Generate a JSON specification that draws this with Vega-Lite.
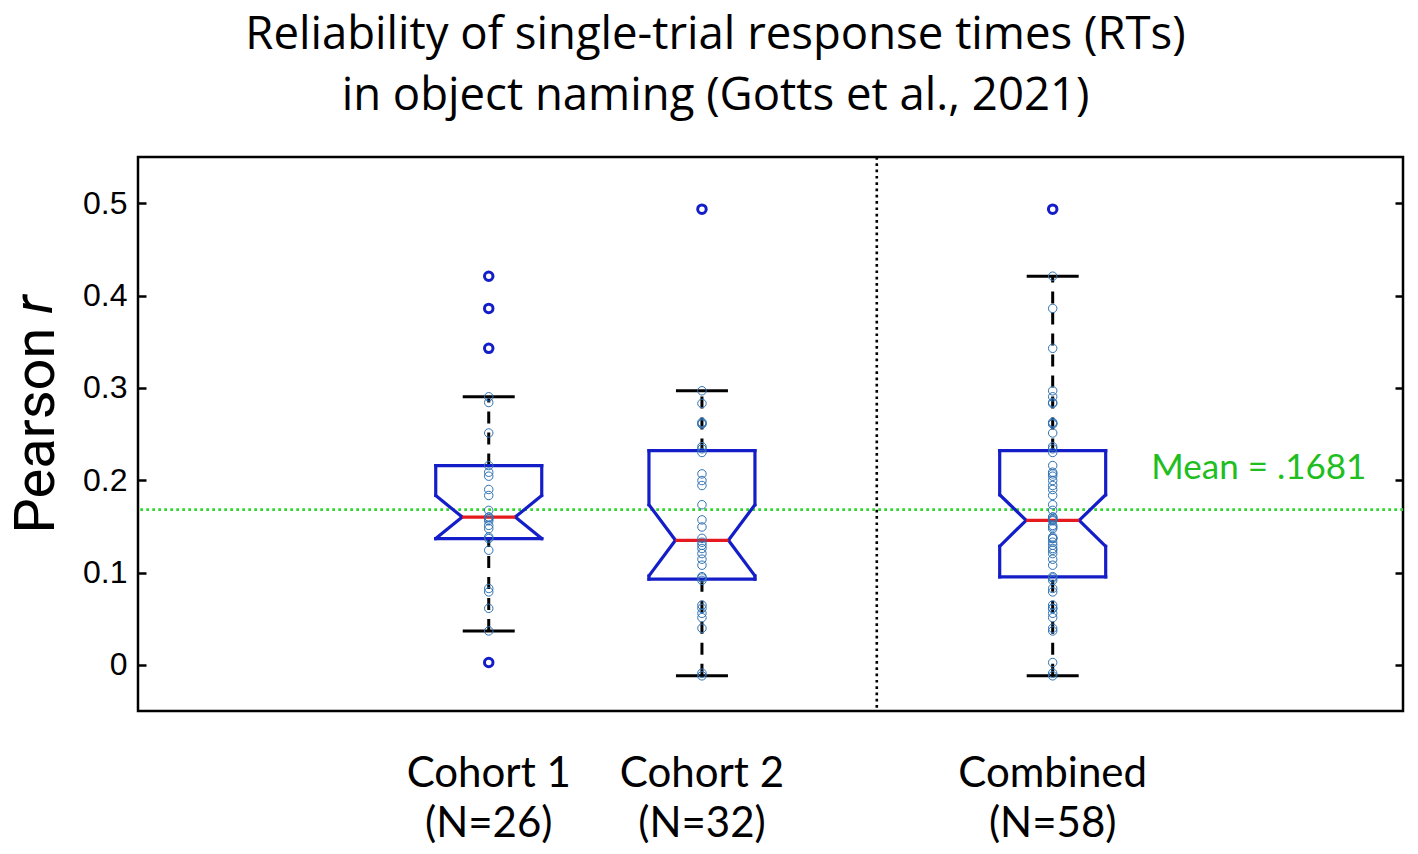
{
  "$schema": "https://vega.github.io/schema/vega-lite/v6.json",
  "width": 1265,
  "height": 554,
  "autosize": "none",
  "padding": {"left": 138, "top": 157, "right": 15, "bottom": 143},
  "background": "white",
  "config": {
    "view": {"stroke": "black", "strokeWidth": 2.5},
    "font": "Lato"
  },
  "title": {
    "text": ["Reliability of single-trial response times (RTs)", "in object naming (Gotts et al., 2021)"],
    "font": "Open Sans",
    "fontSize": 45.5,
    "fontWeight": "normal",
    "color": "black",
    "lineHeight": 61,
    "anchor": "middle",
    "frame": "group",
    "dx": -55,
    "baseline": "top",
    "offset": 36
  },
  "datasets": {
    "box": [
      {"group": "Cohort 1", "nlabel": "(N=26)", "pos": 1, "q1": 0.1367, "med": 0.16, "q3": 0.2158, "nlo": 0.1367, "nhi": 0.1834, "wlo": 0.0367, "whi": 0.2903},
      {"group": "Cohort 2", "nlabel": "(N=32)", "pos": 2, "q1": 0.0928, "med": 0.1349, "q3": 0.232, "nlo": 0.0963, "nhi": 0.1734, "wlo": -0.0119, "whi": 0.2968},
      {"group": "Combined", "nlabel": "(N=58)", "pos": 3.645, "q1": 0.0953, "med": 0.1565, "q3": 0.232, "nlo": 0.1284, "nhi": 0.1842, "wlo": -0.0119, "whi": 0.4209}
    ],
    "pts": [
      {"group": "Cohort 1", "r": 0.0025}, {"group": "Cohort 1", "r": 0.0367}, {"group": "Cohort 1", "r": 0.0612}, {"group": "Cohort 1", "r": 0.0790},
      {"group": "Cohort 1", "r": 0.0827}, {"group": "Cohort 1", "r": 0.1241}, {"group": "Cohort 1", "r": 0.1367}, {"group": "Cohort 1", "r": 0.1384},
      {"group": "Cohort 1", "r": 0.1475}, {"group": "Cohort 1", "r": 0.1510}, {"group": "Cohort 1", "r": 0.1560}, {"group": "Cohort 1", "r": 0.1580},
      {"group": "Cohort 1", "r": 0.1600}, {"group": "Cohort 1", "r": 0.1600}, {"group": "Cohort 1", "r": 0.1673}, {"group": "Cohort 1", "r": 0.1834},
      {"group": "Cohort 1", "r": 0.1899}, {"group": "Cohort 1", "r": 0.2043}, {"group": "Cohort 1", "r": 0.2086}, {"group": "Cohort 1", "r": 0.2158},
      {"group": "Cohort 1", "r": 0.2511}, {"group": "Cohort 1", "r": 0.2841}, {"group": "Cohort 1", "r": 0.2903}, {"group": "Cohort 1", "r": 0.3428},
      {"group": "Cohort 1", "r": 0.3860}, {"group": "Cohort 1", "r": 0.4209},
      {"group": "Cohort 2", "r": -0.0119}, {"group": "Cohort 2", "r": -0.0090}, {"group": "Cohort 2", "r": 0.0396}, {"group": "Cohort 2", "r": 0.0511},
      {"group": "Cohort 2", "r": 0.0558}, {"group": "Cohort 2", "r": 0.0612}, {"group": "Cohort 2", "r": 0.0647}, {"group": "Cohort 2", "r": 0.0915},
      {"group": "Cohort 2", "r": 0.0941}, {"group": "Cohort 2", "r": 0.0955}, {"group": "Cohort 2", "r": 0.1079}, {"group": "Cohort 2", "r": 0.1144},
      {"group": "Cohort 2", "r": 0.1205}, {"group": "Cohort 2", "r": 0.1260}, {"group": "Cohort 2", "r": 0.1295}, {"group": "Cohort 2", "r": 0.1328},
      {"group": "Cohort 2", "r": 0.1370}, {"group": "Cohort 2", "r": 0.1493}, {"group": "Cohort 2", "r": 0.1570}, {"group": "Cohort 2", "r": 0.1734},
      {"group": "Cohort 2", "r": 0.1942}, {"group": "Cohort 2", "r": 0.1996}, {"group": "Cohort 2", "r": 0.2068}, {"group": "Cohort 2", "r": 0.2300},
      {"group": "Cohort 2", "r": 0.2340}, {"group": "Cohort 2", "r": 0.2363}, {"group": "Cohort 2", "r": 0.2608}, {"group": "Cohort 2", "r": 0.2615},
      {"group": "Cohort 2", "r": 0.2626}, {"group": "Cohort 2", "r": 0.2831}, {"group": "Cohort 2", "r": 0.2968}, {"group": "Cohort 2", "r": 0.4935},
      {"group": "Combined", "r": 0.0025}, {"group": "Combined", "r": 0.0367}, {"group": "Combined", "r": 0.0612}, {"group": "Combined", "r": 0.0790},
      {"group": "Combined", "r": 0.0827}, {"group": "Combined", "r": 0.1241}, {"group": "Combined", "r": 0.1367}, {"group": "Combined", "r": 0.1384},
      {"group": "Combined", "r": 0.1475}, {"group": "Combined", "r": 0.1510}, {"group": "Combined", "r": 0.1560}, {"group": "Combined", "r": 0.1580},
      {"group": "Combined", "r": 0.1600}, {"group": "Combined", "r": 0.1600}, {"group": "Combined", "r": 0.1673}, {"group": "Combined", "r": 0.1834},
      {"group": "Combined", "r": 0.1899}, {"group": "Combined", "r": 0.2043}, {"group": "Combined", "r": 0.2086}, {"group": "Combined", "r": 0.2158},
      {"group": "Combined", "r": 0.2511}, {"group": "Combined", "r": 0.2841}, {"group": "Combined", "r": 0.2903}, {"group": "Combined", "r": 0.3428},
      {"group": "Combined", "r": 0.3860}, {"group": "Combined", "r": 0.4209},
      {"group": "Combined", "r": -0.0119}, {"group": "Combined", "r": -0.0090}, {"group": "Combined", "r": 0.0396}, {"group": "Combined", "r": 0.0511},
      {"group": "Combined", "r": 0.0558}, {"group": "Combined", "r": 0.0612}, {"group": "Combined", "r": 0.0647}, {"group": "Combined", "r": 0.0915},
      {"group": "Combined", "r": 0.0941}, {"group": "Combined", "r": 0.0955}, {"group": "Combined", "r": 0.1079}, {"group": "Combined", "r": 0.1144},
      {"group": "Combined", "r": 0.1205}, {"group": "Combined", "r": 0.1260}, {"group": "Combined", "r": 0.1295}, {"group": "Combined", "r": 0.1328},
      {"group": "Combined", "r": 0.1370}, {"group": "Combined", "r": 0.1493}, {"group": "Combined", "r": 0.1570}, {"group": "Combined", "r": 0.1734},
      {"group": "Combined", "r": 0.1942}, {"group": "Combined", "r": 0.1996}, {"group": "Combined", "r": 0.2068}, {"group": "Combined", "r": 0.2300},
      {"group": "Combined", "r": 0.2340}, {"group": "Combined", "r": 0.2363}, {"group": "Combined", "r": 0.2608}, {"group": "Combined", "r": 0.2615},
      {"group": "Combined", "r": 0.2626}, {"group": "Combined", "r": 0.2831}, {"group": "Combined", "r": 0.2968}, {"group": "Combined", "r": 0.4935}
    ],
    "annot": [{"label": "Mean = .1681", "mean": 0.1681}]
  },
  "layer": [
    {
      "data": {"name": "annot"},
      "mark": {"type": "rule", "color": "#2ED62E", "strokeWidth": 2.7, "strokeDash": [2.7, 3.3]},
      "encoding": {
        "y": {"field": "mean", "type": "quantitative",
          "scale": {"domain": [-0.05, 0.55], "nice": false, "zero": false},
          "axis": {"orient": "left", "values": [0, 0.1, 0.2, 0.3, 0.4, 0.5], "format": ".1~f",
            "labelFont": "Liberation Sans", "labelFontSize": 32, "labelColor": "black", "labelPadding": 11,
            "ticks": false, "domain": false, "grid": false,
            "title": "Pearson", "titleFont": "Roboto", "titleFontSize": 56, "titleFontWeight": "normal", "titleColor": "black",
            "titleAngle": 270, "titleX": -85, "titleY": 273, "titleAlign": "center", "titleBaseline": "alphabetic"}}
      }
    },
    {
      "data": {"values": [{"sep": 2.82}]},
      "mark": {"type": "rule", "color": "black", "strokeWidth": 2.6, "strokeDash": [2.7, 3.6]},
      "encoding": {
        "x": {"field": "sep", "type": "quantitative",
          "scale": {"domain": [-0.645, 5.288], "nice": false, "zero": false},
          "axis": null}
      }
    },
    {
      "data": {"name": "box"},
      "mark": {"type": "rule", "color": "black", "strokeWidth": 3, "strokeDash": [12, 9]},
      "encoding": {
        "x": {"field": "pos", "type": "quantitative", "axis": null},
        "y": {"field": "q3", "type": "quantitative", "axis": {"orient": "left", "offset": -8, "values": [0, 0.1, 0.2, 0.3, 0.4, 0.5], "labels": false, "domain": false, "grid": false, "ticks": true, "tickSize": 8, "tickWidth": 2.5, "tickColor": "black", "title": null}},
        "y2": {"field": "whi"}
      }
    },
    {
      "data": {"name": "box"},
      "mark": {"type": "rule", "color": "black", "strokeWidth": 3, "strokeDash": [12, 9]},
      "encoding": {
        "x": {"field": "pos", "type": "quantitative", "axis": null},
        "y": {"field": "wlo", "type": "quantitative", "axis": {"orient": "right", "offset": -8, "values": [0, 0.1, 0.2, 0.3, 0.4, 0.5], "labels": false, "domain": false, "grid": false, "ticks": true, "tickSize": 8, "tickWidth": 2.5, "tickColor": "black", "title": null}},
        "y2": {"field": "q1"}
      }
    },
    {
      "data": {"name": "box"},
      "mark": {"type": "rule", "color": "black", "strokeWidth": 3, "xOffset": -26, "x2Offset": 26},
      "encoding": {
        "x": {"field": "pos", "type": "quantitative", "axis": null},
        "x2": {"field": "pos"},
        "y": {"field": "whi", "type": "quantitative", "axis": null}
      }
    },
    {
      "data": {"name": "box"},
      "mark": {"type": "rule", "color": "black", "strokeWidth": 3, "xOffset": -26, "x2Offset": 26},
      "encoding": {
        "x": {"field": "pos", "type": "quantitative", "axis": null},
        "x2": {"field": "pos"},
        "y": {"field": "wlo", "type": "quantitative", "axis": null}
      }
    },
    {
      "data": {"name": "box"},
      "mark": {"type": "rule", "color": "#141EC8", "strokeWidth": 3.2, "xOffset": -53, "x2Offset": 53, "strokeCap": "square"},
      "encoding": {
        "x": {"field": "pos", "type": "quantitative", "axis": null},
        "x2": {"field": "pos"},
        "y": {"field": "q3", "type": "quantitative", "axis": null}
      }
    },
    {
      "data": {"name": "box"},
      "mark": {"type": "rule", "color": "#141EC8", "strokeWidth": 3.2, "xOffset": -53, "x2Offset": 53, "strokeCap": "square"},
      "encoding": {
        "x": {"field": "pos", "type": "quantitative", "axis": null},
        "x2": {"field": "pos"},
        "y": {"field": "q1", "type": "quantitative", "axis": null}
      }
    },
    {
      "data": {"name": "box"},
      "mark": {"type": "rule", "color": "#141EC8", "strokeWidth": 3.2, "xOffset": -53, "strokeCap": "square"},
      "encoding": {
        "x": {"field": "pos", "type": "quantitative", "axis": null},
        "y": {"field": "q3", "type": "quantitative", "axis": null},
        "y2": {"field": "nhi"}
      }
    },
    {
      "data": {"name": "box"},
      "mark": {"type": "rule", "color": "#141EC8", "strokeWidth": 3.2, "xOffset": 53, "strokeCap": "square"},
      "encoding": {
        "x": {"field": "pos", "type": "quantitative", "axis": null},
        "y": {"field": "q3", "type": "quantitative", "axis": null},
        "y2": {"field": "nhi"}
      }
    },
    {
      "data": {"name": "box"},
      "mark": {"type": "rule", "color": "#141EC8", "strokeWidth": 3.2, "xOffset": -53, "strokeCap": "square"},
      "encoding": {
        "x": {"field": "pos", "type": "quantitative", "axis": null},
        "y": {"field": "nlo", "type": "quantitative", "axis": null},
        "y2": {"field": "q1"}
      }
    },
    {
      "data": {"name": "box"},
      "mark": {"type": "rule", "color": "#141EC8", "strokeWidth": 3.2, "xOffset": 53, "strokeCap": "square"},
      "encoding": {
        "x": {"field": "pos", "type": "quantitative", "axis": null},
        "y": {"field": "nlo", "type": "quantitative", "axis": null},
        "y2": {"field": "q1"}
      }
    },
    {
      "data": {"name": "box"},
      "mark": {"type": "rule", "color": "#141EC8", "strokeWidth": 3.2, "xOffset": -53, "x2Offset": -26.5, "strokeCap": "round"},
      "encoding": {
        "x": {"field": "pos", "type": "quantitative", "axis": null},
        "x2": {"field": "pos"},
        "y": {"field": "nhi", "type": "quantitative", "axis": null},
        "y2": {"field": "med"}
      }
    },
    {
      "data": {"name": "box"},
      "mark": {"type": "rule", "color": "#141EC8", "strokeWidth": 3.2, "xOffset": 53, "x2Offset": 26.5, "strokeCap": "round"},
      "encoding": {
        "x": {"field": "pos", "type": "quantitative", "axis": null},
        "x2": {"field": "pos"},
        "y": {"field": "nhi", "type": "quantitative", "axis": null},
        "y2": {"field": "med"}
      }
    },
    {
      "data": {"name": "box"},
      "mark": {"type": "rule", "color": "#141EC8", "strokeWidth": 3.2, "xOffset": -26.5, "x2Offset": -53, "strokeCap": "round"},
      "encoding": {
        "x": {"field": "pos", "type": "quantitative", "axis": null},
        "x2": {"field": "pos"},
        "y": {"field": "med", "type": "quantitative", "axis": null},
        "y2": {"field": "nlo"}
      }
    },
    {
      "data": {"name": "box"},
      "mark": {"type": "rule", "color": "#141EC8", "strokeWidth": 3.2, "xOffset": 26.5, "x2Offset": 53, "strokeCap": "round"},
      "encoding": {
        "x": {"field": "pos", "type": "quantitative", "axis": null},
        "x2": {"field": "pos"},
        "y": {"field": "med", "type": "quantitative", "axis": null},
        "y2": {"field": "nlo"}
      }
    },
    {
      "data": {"name": "box"},
      "mark": {"type": "rule", "color": "#E6191E", "strokeWidth": 3.2, "xOffset": -26.5, "x2Offset": 26.5},
      "encoding": {
        "x": {"field": "pos", "type": "quantitative", "axis": null},
        "x2": {"field": "pos"},
        "y": {"field": "med", "type": "quantitative", "axis": null}
      }
    },
    {
      "data": {"name": "pts"},
      "transform": [{"lookup": "group", "from": {"data": {"name": "box"}, "key": "group", "fields": ["pos", "wlo", "whi"]}}],
      "mark": {"type": "point", "shape": "circle", "filled": false, "size": 72, "color": "#2F72B4", "strokeWidth": 1, "opacity": 1},
      "encoding": {
        "x": {"field": "pos", "type": "quantitative", "axis": null},
        "y": {"field": "r", "type": "quantitative", "axis": null}
      }
    },
    {
      "data": {"name": "pts"},
      "transform": [
        {"lookup": "group", "from": {"data": {"name": "box"}, "key": "group", "fields": ["pos", "wlo", "whi"]}},
        {"filter": "datum.r > datum.whi || datum.r < datum.wlo"}
      ],
      "mark": {"type": "point", "shape": "circle", "filled": false, "size": 72, "color": "#141EC8", "strokeWidth": 3, "opacity": 1},
      "encoding": {
        "x": {"field": "pos", "type": "quantitative", "axis": null},
        "y": {"field": "r", "type": "quantitative", "axis": null}
      }
    },
    {
      "data": {"name": "box"},
      "mark": {"type": "text", "color": "black", "font": "Lato", "fontSize": 42, "align": "center", "baseline": "alphabetic", "dy": 76},
      "encoding": {
        "x": {"field": "pos", "type": "quantitative", "axis": null},
        "y": {"datum": -0.05, "type": "quantitative", "axis": null},
        "text": {"field": "group"}
      }
    },
    {
      "data": {"name": "box"},
      "mark": {"type": "text", "color": "black", "font": "Lato", "fontSize": 42, "align": "center", "baseline": "alphabetic", "dy": 126},
      "encoding": {
        "x": {"field": "pos", "type": "quantitative", "axis": null},
        "y": {"datum": -0.05, "type": "quantitative", "axis": null},
        "text": {"field": "nlabel"}
      }
    },
    {
      "data": {"name": "annot"},
      "mark": {"type": "text", "color": "#20BE20", "font": "Lato", "fontSize": 35, "align": "center", "baseline": "alphabetic", "dy": -31},
      "encoding": {
        "x": {"datum": 4.612, "type": "quantitative", "axis": null},
        "y": {"field": "mean", "type": "quantitative", "axis": null},
        "text": {"field": "label"}
      }
    },
    {
      "data": {"values": [{"sym": "r"}]},
      "mark": {"type": "text", "color": "black", "font": "Roboto", "fontSize": 56, "fontStyle": "italic", "align": "center", "baseline": "alphabetic", "angle": 270},
      "encoding": {
        "x": {"datum": -1.05, "type": "quantitative", "axis": null},
        "y": {"datum": 0.3901, "type": "quantitative", "axis": null},
        "text": {"field": "sym"}
      }
    }
  ],
  "resolve": {"axis": {"y": "independent"}}
}
